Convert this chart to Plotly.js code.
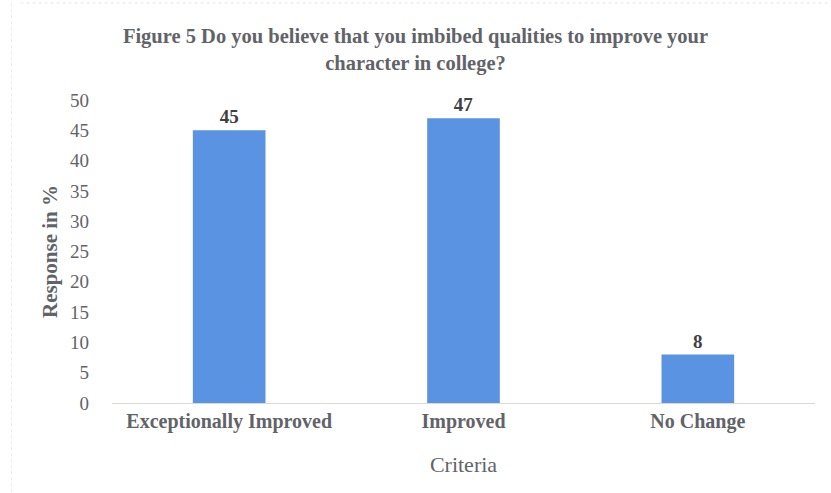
<!DOCTYPE html>
<html>
<head>
<meta charset="utf-8">
<script src="https://cdn.plot.ly/plotly-3.0.1.min.js"></script>
<style>html,body{margin:0;padding:0;background:#fff;}#chart{width:831px;height:493px;}</style>
</head>
<body>
<div id="chart"></div>
<script>
const categories = ["Exceptionally Improved", "Improved", "No Change"];
const values = [45, 47, 8];
const yTicks = [0, 5, 10, 15, 20, 25, 30, 35, 40, 45, 50];

const serif = "Liberation Serif, Times New Roman, serif";
const grey = "#626368";

const trace = {
  type: "bar",
  x: categories,
  y: values,
  text: values.map(String),
  textposition: "outside",
  cliponaxis: false,
  textfont: {family: serif, size: 19, color: "#404040", weight: "bold"},
  marker: {color: "#5a93e2"},
  hoverinfo: "none"
};

const layout = {
  width: 831,
  height: 493,
  margin: {l: 112, r: 16, t: 100, b: 90},
  paper_bgcolor: "#ffffff",
  plot_bgcolor: "#ffffff",
  bargap: 0.69,
  showlegend: false,
  title: {
    text: "<b>Figure 5 Do you believe that you imbibed qualities to improve your<br>character in college?</b>",
    font: {family: serif, size: 20.5, color: grey},
    x: 0.5, xanchor: "center", y: 0.912, yanchor: "top"
  },
  xaxis: {
    type: "category",
    tickfont: {family: serif, size: 20, color: grey, weight: "bold"},
    showline: true,
    linecolor: "#d9d9d9",
    linewidth: 1,
    ticks: "",
    ticklen: 0,
    title: {text: "Criteria", font: {family: serif, size: 22, color: grey}, standoff: 24}
  },
  yaxis: {
    range: [0, 50],
    tickvals: yTicks,
    ticktext: yTicks.map(String),
    tickfont: {family: serif, size: 19, color: grey},
    showgrid: false,
    zeroline: false,
    showline: false,
    ticks: "",
    ticklabelstandoff: 22,
    title: {text: "<b>Response in %</b>", font: {family: serif, size: 21, color: grey}, standoff: 6}
  },
  shapes: [
    {type: "line", xref: "paper", yref: "paper", x0: -0.13, x1: 1.03, y0: 1.32, y1: 1.32, line: {width: 1, color: "#e4e4ec", dash: "dot"}},
    {type: "line", xref: "paper", yref: "paper", x0: -0.143, x1: -0.143, y0: 1.32, y1: -0.3, line: {width: 1, color: "#ececf0", dash: "dot"}}
  ]
};

Plotly.newPlot("chart", [trace], layout, {staticPlot: true, displayModeBar: false});
</script>
</body>
</html>
